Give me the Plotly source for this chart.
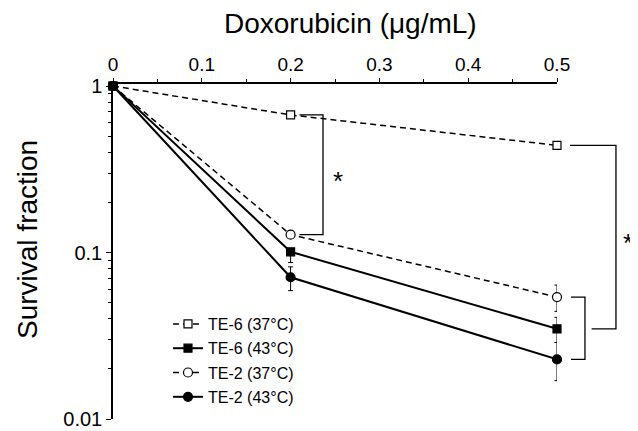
import math
import plotly.graph_objects as go

# ---- data ----
dose = [0, 0.2, 0.5]
te6_37 = [1.0, 0.67, 0.44]
te6_37_err = [0, 0.03, 0.02]
te6_43 = [1.0, 0.101, 0.0348]
te6_43_err_plus = [0, 0.004, 0.006]
te6_43_err_minus = [0, 0.014, 0.006]
te2_37 = [1.0, 0.128, 0.054]
te2_37_err = [0, 0.004, 0.0097]
te2_43 = [1.0, 0.071, 0.0228]
te2_43_err_plus = [0, 0.011, 0.006]
te2_43_err_minus = [0, 0.012, 0.0058]

x_ticks = [0, 0.1, 0.2, 0.3, 0.4, 0.5]
x_ticktext = ["0", "0.1", "0.2", "0.3", "0.4", "0.5"]
y_ticks = [0.01, 0.1, 1]
y_ticktext = ["0.01", "0.1", "1"]
y_minor = [m * d for d in (0.01, 0.1) for m in range(2, 10)]

FONT = "Liberation Sans, Arial, Helvetica, sans-serif"

# geometry: the page body adds an 8px offset, so work in figure pixels = window - 8
OFF = 8
W, H = 638 - OFF, 431 - OFF
L, T = 113 - OFF, 84 - OFF
plot_bottom = 419 - OFF
plot_right = W            # overlay subplot reaches the figure's right edge
B = H - plot_bottom
R = W - plot_right
PW = plot_right - L
PH = plot_bottom - T
xdom_end = (557 - OFF - L) / PW
YRANGE = [-2, 0.012]

def px(xw):
    return (xw - OFF - L) / PW

def py(yw):
    return (plot_bottom - (yw - OFF)) / PH

fig = go.Figure()

def add_series(name, rank, y, ep, em, dash, symbol, fill, width, size):
    fig.add_trace(go.Scatter(
        x=dose, y=y, name=name, mode="lines+markers",
        line=dict(color="black", width=width, dash=dash),
        marker=dict(symbol=symbol, size=size, color=fill,
                    line=dict(color="black", width=1.2)),
        error_y=dict(type="data", array=ep, arrayminus=em, symmetric=False,
                     color="black", thickness=1, width=2.5),
        legendgroup=name, legendrank=rank, cliponaxis=False,
    ))

add_series("TE-6 (37°C)", 1, te6_37, te6_37_err, te6_37_err, "6px,4px", "square", "white", 1.5, 8)
add_series("TE-2 (37°C)", 3, te2_37, te2_37_err, te2_37_err, "6px,4px", "circle", "white", 1.5, 9)
add_series("TE-2 (43°C)", 4, te2_43, te2_43_err_plus, te2_43_err_minus, "solid", "circle", "black", 2, 9)
add_series("TE-6 (43°C)", 2, te6_43, te6_43_err_plus, te6_43_err_minus, "solid", "square", "black", 2, 8)

# ---- significance brackets (on an overlay subplot that extends past the x-axis end) ----
def bracket(x_start, x_right, y_top, y_bot, x_bot_start=None):
    if x_bot_start is None:
        x_bot_start = x_start
    fig.add_trace(go.Scatter(
        x=[x_start, x_right, x_right, x_bot_start], y=[y_top, y_top, y_bot, y_bot],
        mode="lines", line=dict(color="black", width=1.3),
        xaxis="x2", yaxis="y2", showlegend=False, hoverinfo="skip"))

bracket(0.21, 0.2365, te6_37[1], te2_37[1])
bracket(0.5146, 0.5664, te6_37[2], te6_43[2], x_bot_start=0.539)
bracket(0.5158, 0.5315, te2_37[2], te2_43[2])

def star(x, y_a, y_b):
    return dict(text="*", xref="x2", yref="y2", x=x,
                y=(math.log10(y_a) + math.log10(y_b)) / 2, showarrow=False,
                xanchor="center", yanchor="middle", yshift=-6,
                font=dict(size=26, family=FONT, color="black"))

fig.update_layout(
    width=W, height=H,
    margin=dict(l=L, r=R, t=T, b=B, autoexpand=False),
    plot_bgcolor="rgba(0,0,0,0)", paper_bgcolor="white",
    font=dict(family=FONT, color="black"),
    showlegend=True,
    legend=dict(x=px(168), y=py(307), xanchor="left", yanchor="top",
                font=dict(family=FONT, size=16, color="black"),
                bgcolor="rgba(0,0,0,0)", tracegroupgap=0.5, itemwidth=30),
    xaxis=dict(domain=[0, xdom_end], range=[0, 0.5], side="top", anchor="y",
               tickvals=x_ticks, ticktext=x_ticktext, automargin=False,
               showline=True, linecolor="black", linewidth=1.5,
               ticks="outside", ticklen=4, tickwidth=1.2, tickcolor="black",
               minor=dict(dtick=0.05, tick0=0, ticks="outside", ticklen=3, tickcolor="black", showgrid=False),
               tickfont=dict(size=19), showgrid=False, zeroline=False),
    yaxis=dict(type="log", range=YRANGE, anchor="x", automargin=False,
               tickvals=y_ticks, ticktext=y_ticktext,
               showline=True, linecolor="black", linewidth=1.5,
               ticks="outside", ticklen=5, tickwidth=1.2, tickcolor="black",
               minor=dict(tickvals=y_minor, ticks="outside", ticklen=3, tickcolor="black", showgrid=False),
               tickfont=dict(size=20), showgrid=False, zeroline=False),
    xaxis2=dict(domain=[0, 1], range=[0, 0.5 / xdom_end], anchor="y2", visible=False),
    yaxis2=dict(domain=[0, 1], type="log", range=YRANGE, anchor="x2", visible=False),
    annotations=[
        dict(text="Doxorubicin (μg/mL)", xref="paper", yref="paper",
             x=px(350), y=py(23), showarrow=False,
             xanchor="center", yanchor="middle", font=dict(size=28, family=FONT)),
        dict(text="Survival fraction", xref="paper", yref="paper",
             x=px(27), y=py(240), showarrow=False, textangle=-90,
             xanchor="center", yanchor="middle", font=dict(size=28, family=FONT)),
        star(0.253, te6_37[1], te2_37[1]),
        star(0.58, te6_37[2], te6_43[2]),
    ],
)

fig.write_html("out.html")
